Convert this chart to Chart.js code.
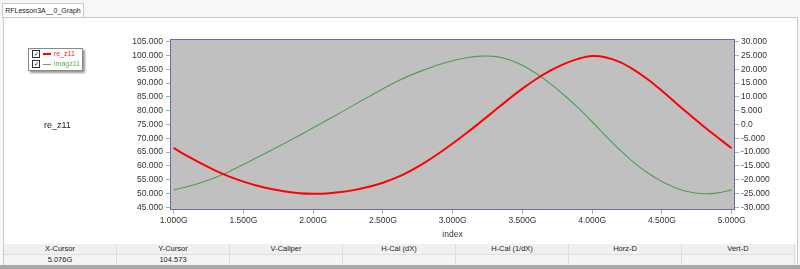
<!DOCTYPE html>
<html>
<head>
<meta charset="utf-8">
<script src="https://cdn.jsdelivr.net/npm/chart.js@4"></script>
<style>
  html, body { margin: 0; padding: 0; }
  body {
    width: 800px; height: 269px; position: relative; overflow: hidden;
    background: #f7f7f7; font-family: "Liberation Sans", Arial, sans-serif;
  }
  #tab {
    position: absolute; left: 2px; top: 3px; width: 80px; height: 14px;
    background: #fff; border: 1px solid #c8c8c8; border-bottom: none;
    font-size: 7px; line-height: 14px; text-align: center; color: #222; white-space: nowrap;
  }
  #panel {
    position: absolute; left: 3px; top: 17px; width: 793px; height: 248px;
    background: #fff; border: 1px solid #c8c8c8;
  }
  #chartbox { position: absolute; left: 0; top: 0; width: 800px; height: 240px; }
  #ytitle {
    position: absolute; left: 44px; top: 120px; font-size: 9px; color: #222;
  }
  #legend {
    position: absolute; left: 28px; top: 48px; width: 53px; height: 21px;
    background: #fff; border: 1px solid #888; box-shadow: 2px 2px 2px #999;
    font-size: 7px; white-space: nowrap;
  }
  .li { height: 10px; line-height: 10px; position: relative; padding-left: 3px; }
  .li .cb {
    display: inline-block; width: 6px; height: 6px; border: 1px solid #333;
    vertical-align: middle; font-size: 6px; line-height: 6px; text-align: center;
  }
  .li .ln { display: inline-block; width: 8px; height: 0; vertical-align: middle; margin: 0 3px; }
  #bottom {
    position: absolute; left: 4px; top: 244px; width: 792px; height: 21px;
    background: #f0f0f0; font-size: 7.5px; color: #222;
  }
  .row { display: flex; height: 10px; line-height: 10px; }
  .row div { width: 113px; text-align: center; border-right: 1px solid #dcdcdc; box-sizing: border-box; }
  .row.vals div { background: #f4f4f4; border-top: 1px solid #e0e0e0; }
  #base { position: absolute; left: 0; top: 265px; width: 800px; height: 4px; background: #a8a8a8; }
</style>
</head>
<body>
<div id="tab">RFLesson3A__0_Graph</div>
<div id="panel"></div>
<div id="chartbox"><canvas id="c" width="800" height="240"></canvas></div>
<div id="ytitle">re_z11</div>
<div id="legend">
  <div class="li"><span class="cb">&#10003;</span><span class="ln" style="border-top:2px solid #ff0000"></span><span style="color:#ff2020">re_z11</span></div>
  <div class="li"><span class="cb">&#10003;</span><span class="ln" style="border-top:1px solid #5aaa5a"></span><span style="color:#5aaa5a">imagz11</span></div>
</div>
<div id="bottom">
  <div class="row"><div>X-Cursor</div><div>Y-Cursor</div><div>V-Caliper</div><div>H-Cal (dX)</div><div>H-Cal (1/dX)</div><div>Horz-D</div><div>Vert-D</div></div>
  <div class="row vals"><div>5.076G</div><div>104.573</div><div></div><div></div><div></div><div></div><div></div></div>
</div>
<div id="base"></div>
<script>
// frequency in GHz
const freq = [1.0, 1.1, 1.2, 1.3, 1.4, 1.5, 1.6, 1.7, 1.8, 1.9,
  2.0, 2.1, 2.2, 2.3, 2.4, 2.5, 2.6, 2.7, 2.8, 2.9,
  3.0, 3.1, 3.2, 3.3, 3.4, 3.5, 3.6, 3.7, 3.8, 3.9,
  4.0, 4.1, 4.2, 4.3, 4.4, 4.5, 4.6, 4.7, 4.8, 4.9, 5.0];
const reZ11 = [66.5, 63.5, 60.8, 58.3, 56.1, 54.3, 52.8, 51.6, 50.7, 50.1,
  49.9, 50.0, 50.5, 51.3, 52.4, 53.9, 55.8, 58.3, 61.2, 64.5,
  68.1, 71.9, 75.9, 80.0, 84.1, 88.0, 91.5, 94.5, 97.0, 98.8,
  99.8, 99.3, 97.6, 94.8, 91.3, 87.2, 82.8, 78.5, 74.3, 70.3, 66.4];
const imagZ11 = [-23.7, -22.5, -21.0, -19.2, -17.0, -14.5, -11.9, -9.3, -6.7, -4.0,
  -1.2, 1.6, 4.4, 7.3, 10.1, 13.0, 15.6, 17.9, 19.9, 21.7,
  23.1, 24.2, 24.8, 24.7, 23.6, 21.5, 18.5, 14.8, 10.6, 6.0,
  1.0, -4.3, -9.3, -13.8, -17.6, -20.7, -23.0, -24.5, -25.1, -24.8, -23.7];
const xTicks = [1.0, 1.5, 2.0, 2.5, 3.0, 3.5, 4.0, 4.5, 5.0];
const leftTicks = [45, 50, 55, 60, 65, 70, 75, 80, 85, 90, 95, 100, 105];
const rightTicks = [-30, -25, -20, -15, -10, -5, 0, 5, 10, 15, 20, 25, 30];

const tickColor = "#7cc4cc";
const frameColor = "#6a6aa4";
const labelFont = { family: "Liberation Sans", size: 8.5 };

// gray plot background + frame on all four sides
const plotFrame = {
  id: "plotFrame",
  beforeDatasetsDraw(chart) {
    const a = chart.chartArea, ctx = chart.ctx;
    ctx.save();
    ctx.fillStyle = "#c0c0c0";
    ctx.fillRect(a.left, a.top, a.right - a.left, a.bottom - a.top);
    ctx.restore();
  },
  afterDatasetsDraw(chart) {
    const a = chart.chartArea, ctx = chart.ctx;
    ctx.save();
    ctx.strokeStyle = frameColor;
    ctx.lineWidth = 1;
    ctx.strokeRect(a.left + 0.5, a.top + 0.5, a.right - a.left - 1, a.bottom - a.top - 1);
    ctx.restore();
  }
};

function setTicks(list) {
  return scale => { scale.ticks = list.map(v => ({ value: v })); };
}

new Chart(document.getElementById("c"), {
  type: "line",
  data: {
    datasets: [
      {
        label: "re_z11",
        data: freq.map((f, i) => ({ x: f, y: reZ11[i] })),
        borderColor: "#ff0000",
        borderWidth: 2,
        pointRadius: 0,
        tension: 0.35,
        yAxisID: "y"
      },
      {
        label: "imagz11",
        data: freq.map((f, i) => ({ x: f, y: imagZ11[i] })),
        borderColor: "#4f9d4f",
        borderWidth: 1.1,
        pointRadius: 0,
        tension: 0.35,
        yAxisID: "y2"
      }
    ]
  },
  plugins: [plotFrame],
  options: {
    responsive: false,
    animation: false,
    layout: { padding: { left: 100, top: 39, right: 0, bottom: 0 } },
    plugins: { legend: { display: false }, tooltip: { enabled: false } },
    scales: {
      x: {
        type: "linear",
        min: 0.974,
        max: 5.024,
        afterBuildTicks: setTicks(xTicks),
        afterFit: s => { s.height = 30; },
        grid: { drawOnChartArea: false, color: tickColor, tickLength: 4 },
        border: { display: false },
        ticks: {
          color: "#333",
          font: labelFont,
          padding: 2,
          maxRotation: 0,
          autoSkip: false,
          callback: v => v.toFixed(3) + "G"
        },
        title: { display: true, text: "index", color: "#333", font: labelFont, padding: { top: 0, bottom: 0 } }
      },
      y: {
        position: "left",
        min: 44,
        max: 106,
        afterBuildTicks: setTicks(leftTicks),
        afterFit: s => { s.width = 70; },
        grid: { drawOnChartArea: false, color: tickColor, tickLength: 4 },
        border: { display: false },
        ticks: { color: "#333", font: labelFont, padding: 3, autoSkip: false, callback: v => v.toFixed(3) }
      },
      y2: {
        position: "right",
        min: -31,
        max: 31,
        afterBuildTicks: setTicks(rightTicks),
        afterFit: s => { s.width = 65; },
        grid: { drawOnChartArea: false, color: tickColor, tickLength: 4 },
        border: { display: false },
        ticks: { color: "#333", font: labelFont, padding: 2, autoSkip: false, callback: v => v === 0 ? "0.0" : v.toFixed(3) }
      }
    }
  }
});
</script>
</body>
</html>
